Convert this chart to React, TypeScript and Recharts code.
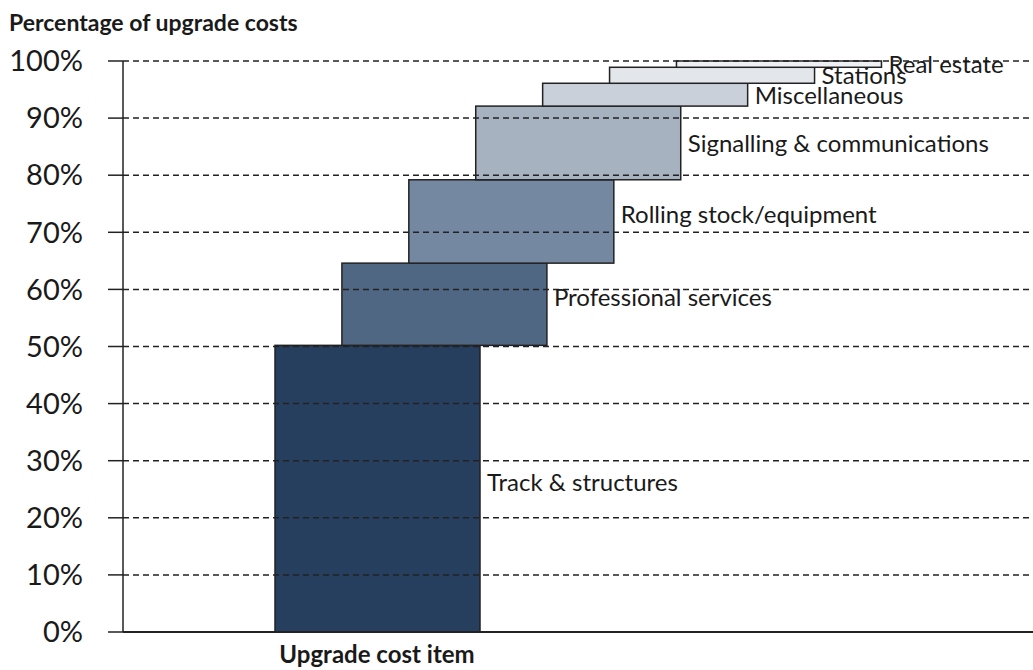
import React from 'react';
import { ComposedChart, Bar, XAxis, YAxis, ReferenceLine, LabelList, Cell } from 'recharts';

const costItems = [
  'Track & structures',
  'Professional services',
  'Rolling stock/equipment',
  'Signalling & communications',
  'Miscellaneous',
  'Stations',
  'Real estate',
];
const costShares = [50.2, 14.4, 14.6, 12.9, 4.0, 2.8, 1.1];
const yTicks = [0, 10, 20, 30, 40, 50, 60, 70, 80, 90, 100];
const COLORS = ['#263f5f', '#506784', '#7588a1', '#a7b2c1', '#c9d0d9', '#e3e7ec', '#eef0f3'];

const FONT = 'Lato, "Open Sans", sans-serif';
const BAR_W = 205;

let running = 0;
const data = costItems.map((name, i) => {
  const start = running;
  running += costShares[i];
  return { name, pos: i, range: [start, running] };
});

// bars overlap each other, so draw them wider than the band recharts gives
const WideBar = (props: any) => {
  const { x, y, width, height, fill } = props;
  const cx = x + width / 2;
  return (
    <rect
      x={cx - BAR_W / 2}
      y={y}
      width={BAR_W}
      height={height}
      fill={fill}
      stroke="#222"
      strokeWidth={1.5}
    />
  );
};

const BarLabel = (props: any) => {
  const { x, y, width, height, value } = props;
  const right = x + width / 2 + BAR_W / 2;
  const dy = height < 80 ? 9 : 2;
  return (
    <text x={right + 7} y={y + height / 2 + dy} fontFamily={FONT} fontSize={24} fill="#1a1a1a">
      {value}
    </text>
  );
};

const App: React.FC = () => {
  return (
    <div style={{ position: 'absolute', left: 0, top: 0, width: 1033, height: 670, background: '#fff' }}>
      <div
        style={{
          position: 'absolute',
          left: 9,
          top: 8,
          fontFamily: FONT,
          fontSize: 23,
          fontWeight: 700,
          color: '#1a1a1a',
          whiteSpace: 'nowrap',
        }}
      >
        Percentage of upgrade costs
      </div>
      <ComposedChart
        width={1033}
        height={670}
        data={data}
        margin={{ top: 61, right: 0, bottom: 0, left: 0 }}
      >
        <XAxis
          dataKey="pos"
          type="number"
          domain={[-3.8, 9.8]}
          allowDataOverflow
          tick={false}
          tickLine={false}
          height={38}
          stroke="#222"
          strokeWidth={2}
        />
        <YAxis
          type="number"
          domain={[0, 100]}
          ticks={yTicks}
          width={123}
          tickSize={15}
          tickMargin={25}
          stroke="#222"
          strokeWidth={1.5}
          tickFormatter={(v: number) => `${v}%`}
          tick={{ fontFamily: FONT, fontSize: 29, fill: '#1a1a1a' }}
        />
        <Bar dataKey="range" shape={WideBar} isAnimationActive={false}>
          {data.map((d, i) => (
            <Cell key={d.name} fill={COLORS[i]} />
          ))}
          <LabelList dataKey="name" content={BarLabel} />
        </Bar>
        {yTicks.slice(1).map((t) => (
          <ReferenceLine key={t} y={t} stroke="#222" strokeWidth={1.5} strokeDasharray="6 4" />
        ))}
      </ComposedChart>
      <div
        style={{
          position: 'absolute',
          left: 377,
          top: 639,
          transform: 'translateX(-50%)',
          fontFamily: FONT,
          fontSize: 24,
          fontWeight: 700,
          color: '#1a1a1a',
          whiteSpace: 'nowrap',
        }}
      >
        Upgrade cost item
      </div>
    </div>
  );
};

export default App;
